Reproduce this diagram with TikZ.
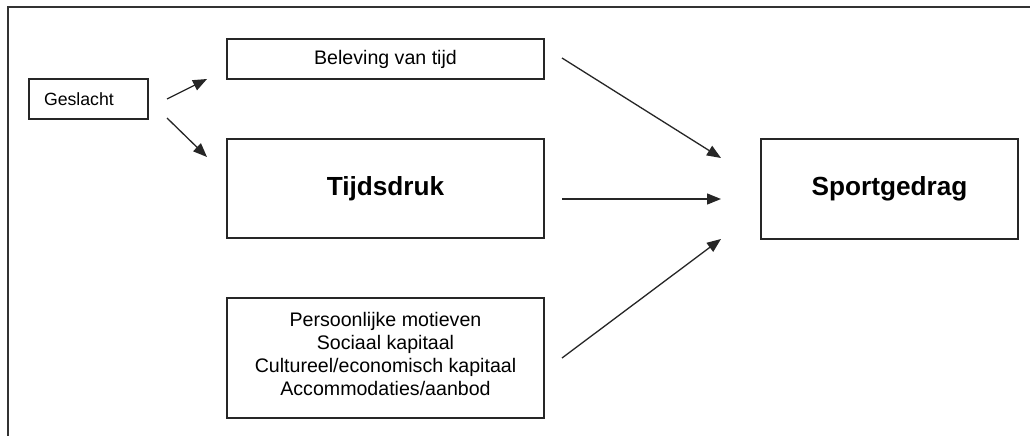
\documentclass[tikz,border=0pt]{standalone}
\usepackage{fontspec}
\setmainfont{Liberation Sans}
\usetikzlibrary{arrows.meta}
\begin{document}
\begin{tikzpicture}[x=1pt,y=-1pt,
  box/.style={draw=black!85, line width=1.3pt, inner sep=0pt, align=center},
  reg/.style={font=\fontsize{19.6}{23.3}\selectfont},
  big/.style={font=\fontsize{26.2}{30}\selectfont\bfseries},
  arr/.style={line width=1.3pt, draw=black!85, -{Triangle[length=14pt,width=11pt]}}]
\useasboundingbox (0,0) rectangle (1030,436);
\fill[white] (0,0) rectangle (1030,436);
\draw[line width=1.6pt, black!80] (8,436) -- (8,7) -- (1030,7);
% nodes
\node[box, minimum width=119, minimum height=40, text width=89, inner xsep=15, align=left,
  font=\fontsize{17.7}{21}\selectfont] (ges) at (88.5,99) {Geslacht};
\node[box, reg, minimum width=317, minimum height=40] (bel) at (385.5,59) {Beleving van tijd};
\node[box, big, minimum width=317, minimum height=99] (tij) at (385.5,188.5) {Tijdsdruk};
\node[box, minimum width=317, minimum height=120] (pers) at (385.5,358) {};
\node[reg, align=center, inner sep=0pt] (perstxt) at (385.5,354)
  {Persoonlijke motieven\\Sociaal kapitaal\\Cultureel/economisch kapitaal\\Accommodaties/aanbod};
\node[box, big, minimum width=257, minimum height=100] (sport) at (889.5,189) {Sportgedrag};
% connector end points
\coordinate (g1s) at (167,99);  \coordinate (g1e) at (207,79);
\coordinate (g2s) at (167,118); \coordinate (g2e) at (207,157);
\coordinate (b1s) at (562,58);  \coordinate (b1e) at (721,158);
\coordinate (t1s) at (562,199); \coordinate (t1e) at (721,199);
\coordinate (p1s) at (562,358); \coordinate (p1e) at (721,239);
\draw[arr] (g1s) -- (g1e);
\draw[arr] (g2s) -- (g2e);
\draw[arr] (b1s) -- (b1e);
\draw[arr] (t1s) -- (t1e);
\draw[arr] (p1s) -- (p1e);
\end{tikzpicture}
\end{document}
